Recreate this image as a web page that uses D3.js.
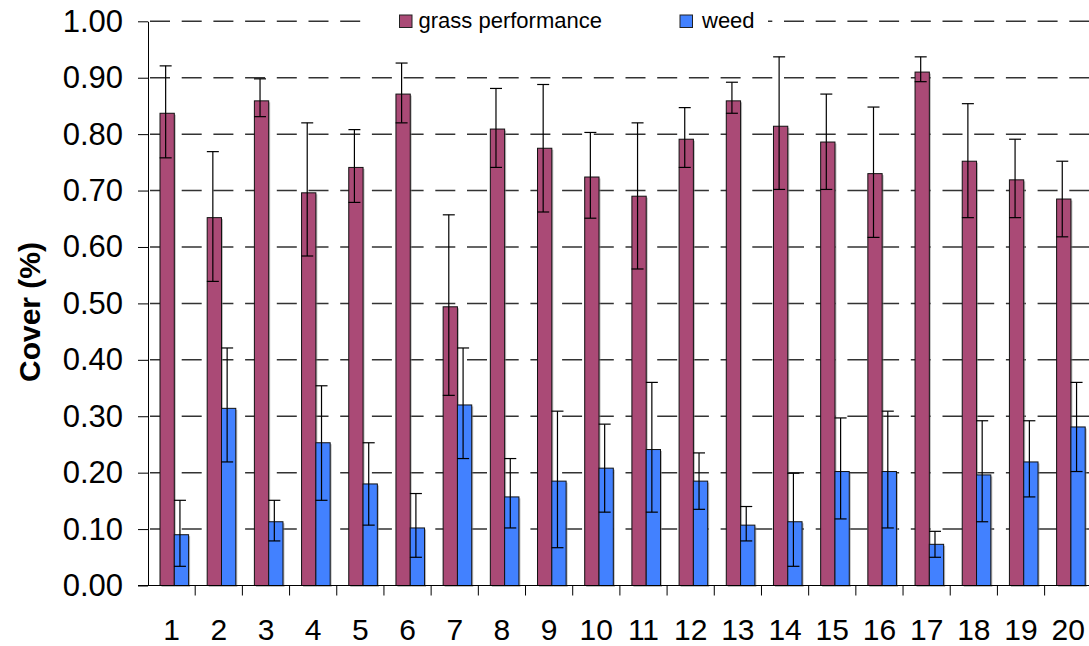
<!DOCTYPE html>
<html>
<head>
<meta charset="utf-8">
<script src="https://cdn.jsdelivr.net/npm/d3@7"></script>
<style>
  body { margin: 0; background: #fff; }
  svg { display: block; font-family: "Liberation Sans", Arial, sans-serif; }
</style>
</head>
<body>
<div id="chart"></div>
<script>
const categories = d3.range(1, 21).map(String);
const series = ["grass performance", "weed"];
const colors = ["#AA4A76", "#4281FF"];

// bar heights (cover) and the ends of the error bars
const grass     = [0.837, 0.652, 0.859, 0.696, 0.741, 0.871, 0.494, 0.809, 0.775, 0.724, 0.690, 0.791, 0.859, 0.814, 0.786, 0.730, 0.910, 0.752, 0.719, 0.685];
const grassHigh = [0.921, 0.769, 0.898, 0.820, 0.808, 0.926, 0.657, 0.881, 0.888, 0.803, 0.820, 0.847, 0.892, 0.937, 0.871, 0.848, 0.937, 0.854, 0.791, 0.752];
const grassLow  = [0.758, 0.539, 0.831, 0.584, 0.679, 0.820, 0.337, 0.741, 0.662, 0.651, 0.561, 0.741, 0.837, 0.702, 0.702, 0.617, 0.893, 0.652, 0.652, 0.618];

const weed      = [0.090, 0.314, 0.113, 0.253, 0.180, 0.102, 0.320, 0.157, 0.185, 0.208, 0.241, 0.185, 0.107, 0.113, 0.202, 0.202, 0.073, 0.196, 0.219, 0.281];
const weedHigh  = [0.151, 0.421, 0.151, 0.354, 0.253, 0.163, 0.421, 0.225, 0.309, 0.286, 0.360, 0.235, 0.140, 0.199, 0.297, 0.309, 0.096, 0.292, 0.292, 0.360];
const weedLow   = [0.034, 0.219, 0.079, 0.151, 0.107, 0.050, 0.225, 0.102, 0.067, 0.130, 0.130, 0.135, 0.079, 0.034, 0.118, 0.102, 0.050, 0.113, 0.157, 0.202];

const yTicks = d3.range(0, 11).map(i => i / 10);

const width = 1089, height = 646;

const svg = d3.select("#chart")
    .append("svg")
    .attr("width", width)
    .attr("height", height);

const x = d3.scaleBand()
    .domain(categories)
    .range([148, 1091.8]);

const x1 = d3.scaleBand()
    .domain(series)
    .range([12, 40.6]);

const y = d3.scaleLinear()
    .domain([0, 1])
    .range([585.5, 21.3]);

// dashed gridlines
svg.append("g")
    .selectAll("line")
    .data(yTicks.slice(1))
    .join("line")
    .attr("x1", 148)
    .attr("x2", width)
    .attr("y1", d => y(d))
    .attr("y2", d => y(d))
    .attr("stroke", "#333")
    .attr("stroke-width", 1.5)
    .attr("stroke-dasharray", "20,11.7")
    .attr("stroke-dashoffset", -2);

const rows = categories.map((c, i) => [
    { cat: c, s: series[0], v: grass[i], hi: grassHigh[i], lo: grassLow[i] },
    { cat: c, s: series[1], v: weed[i], hi: weedHigh[i], lo: weedLow[i] }
]).flat();

const color = d3.scaleOrdinal().domain(series).range(colors);

// bar shadows
svg.append("g")
    .selectAll("rect")
    .data(rows)
    .join("rect")
    .attr("x", d => x(d.cat) + x1(d.s) + 1.5)
    .attr("y", d => y(d.v) + 1.5)
    .attr("width", x1.bandwidth())
    .attr("height", d => y(0) - y(d.v))
    .attr("fill", "#888")
    .attr("opacity", 0.55);

svg.append("g")
    .selectAll("rect")
    .data(rows)
    .join("rect")
    .attr("x", d => x(d.cat) + x1(d.s))
    .attr("y", d => y(d.v))
    .attr("width", x1.bandwidth())
    .attr("height", d => y(0) - y(d.v))
    .attr("fill", d => color(d.s))
    .attr("stroke", "#111")
    .attr("stroke-width", 1);

// error bars
const err = svg.append("g")
    .attr("stroke", "#000")
    .attr("stroke-width", 1.2);

const ex = d => x(d.cat) + x1(d.s) + x1.bandwidth() / 2 - 1.5;

err.selectAll(".stem")
    .data(rows)
    .join("line")
    .attr("class", "stem")
    .attr("x1", ex).attr("x2", ex)
    .attr("y1", d => y(d.hi))
    .attr("y2", d => y(d.lo));

err.selectAll(".capHi")
    .data(rows)
    .join("line")
    .attr("class", "capHi")
    .attr("x1", d => ex(d) - 6).attr("x2", d => ex(d) + 6)
    .attr("y1", d => y(d.hi)).attr("y2", d => y(d.hi));

err.selectAll(".capLo")
    .data(rows)
    .join("line")
    .attr("class", "capLo")
    .attr("x1", d => ex(d) - 6).attr("x2", d => ex(d) + 6)
    .attr("y1", d => y(d.lo)).attr("y2", d => y(d.lo));

// y axis
const yAxis = svg.append("g")
    .attr("transform", "translate(148,0)")
    .call(d3.axisLeft(y)
        .tickValues(yTicks)
        .tickFormat(d3.format(".2f"))
        .tickSize(10)
        .tickSizeOuter(0)
        .tickPadding(15));

yAxis.selectAll("text")
    .attr("font-size", 31)
    .attr("font-family", "'Liberation Sans', Arial, sans-serif")
    .attr("fill", "#000");
yAxis.selectAll("line, path").attr("stroke", "#000");

// x axis: labels centred, tick marks at category edges
const xAxis = svg.append("g")
    .attr("transform", `translate(0,${y(0)})`)
    .call(d3.axisBottom(x).tickSize(0).tickSizeOuter(0).tickPadding(33));

xAxis.select(".domain")
    .attr("d", `M138,0H${width}`)
    .attr("stroke", "#000");

xAxis.selectAll("text")
    .attr("font-size", 30)
    .attr("font-family", "'Liberation Sans', Arial, sans-serif")
    .attr("fill", "#000");

xAxis.selectAll(".edge")
    .data(categories.slice(1))
    .join("line")
    .attr("class", "edge")
    .attr("x1", d => x(d)).attr("x2", d => x(d))
    .attr("y1", 0).attr("y2", 10)
    .attr("stroke", "#000");

// y label
svg.append("text")
    .attr("transform", "translate(40,312) rotate(-90)")
    .attr("text-anchor", "middle")
    .attr("font-size", 30)
    .attr("font-weight", "bold")
    .text("Cover (%)");

// legend
const legend = svg.append("g");
legend.append("rect")
    .attr("x", 366).attr("y", 6)
    .attr("width", 402).attr("height", 30)
    .attr("fill", "#fff");

const legendX = [399.5, 680];
const item = legend.selectAll(".item")
    .data(series)
    .join("g")
    .attr("class", "item")
    .attr("transform", (d, i) => `translate(${legendX[i]},15)`);

item.append("rect")
    .attr("width", 12.5).attr("height", 12.5)
    .attr("fill", d => color(d))
    .attr("stroke", "#222")
    .attr("stroke-width", 1);

item.append("text")
    .attr("x", (d, i) => i === 0 ? 19 : 22)
    .attr("y", 13)
    .attr("font-size", 22)
    .text(d => d);
</script>
</body>
</html>
